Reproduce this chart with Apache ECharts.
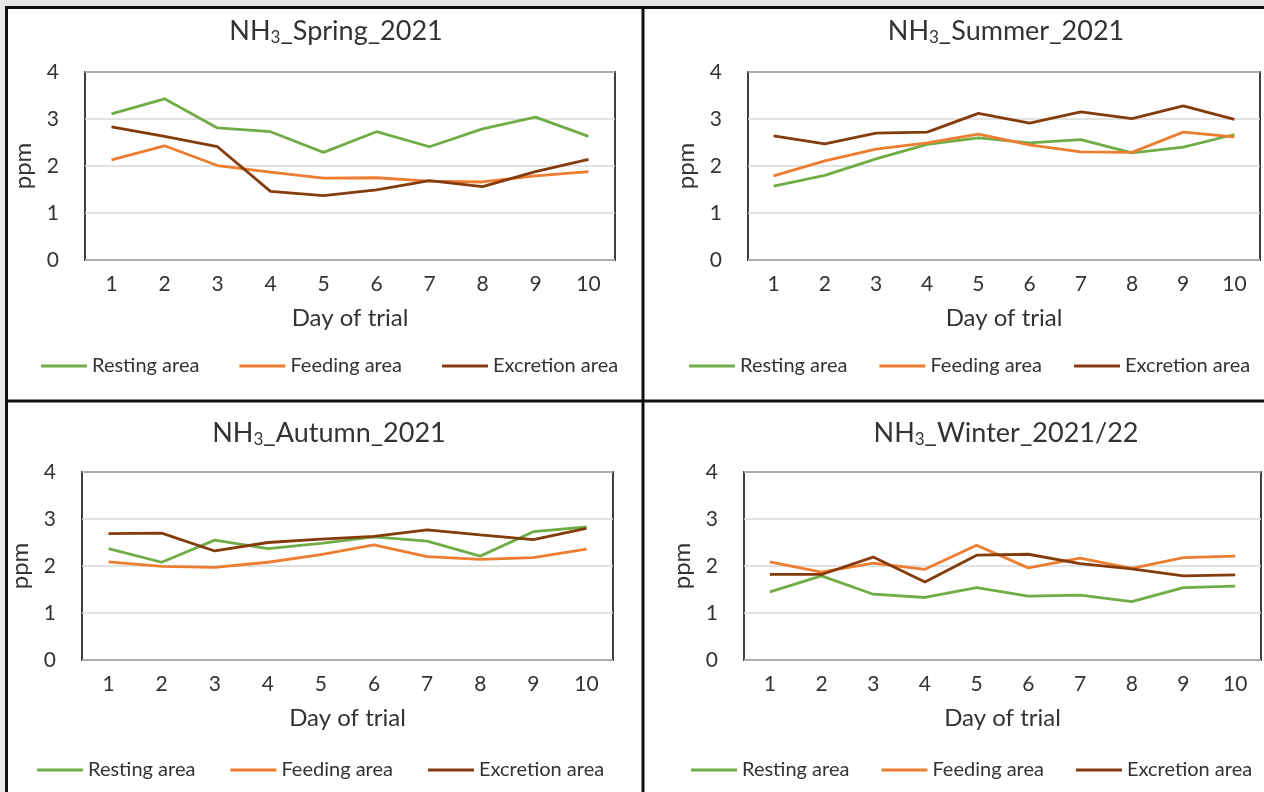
<!DOCTYPE html>
<html>
<head>
<meta charset="utf-8">
<script src="https://cdn.jsdelivr.net/npm/echarts@6/dist/echarts.min.js"></script>
<style>
  html, body { margin: 0; padding: 0; background: #fff; }
  #main { width: 1264px; height: 792px; }
</style>
</head>
<body>
<div id="main"></div>
<script>
var days = ['1', '2', '3', '4', '5', '6', '7', '8', '9', '10'];
var seriesNames = ['Resting area', 'Feeding area', 'Excretion area'];
var colors = ['#70ad47', '#ed7d31', '#843c0c'];

// spring 2021
var springResting = [3.11, 3.43, 2.81, 2.73, 2.29, 2.73, 2.41, 2.79, 3.04, 2.63];
var springFeeding = [2.13, 2.43, 2.01, 1.87, 1.74, 1.75, 1.68, 1.66, 1.79, 1.88];
var springExcretion = [2.83, 2.63, 2.41, 1.46, 1.37, 1.49, 1.69, 1.56, 1.88, 2.14];

// summer 2021
var summerResting = [1.57, 1.80, 2.15, 2.46, 2.60, 2.49, 2.56, 2.28, 2.40, 2.67];
var summerFeeding = [1.79, 2.11, 2.36, 2.49, 2.68, 2.45, 2.30, 2.29, 2.72, 2.62];
var summerExcretion = [2.64, 2.47, 2.70, 2.72, 3.12, 2.91, 3.15, 3.01, 3.28, 2.99];

// autumn 2021
var autumnResting = [2.37, 2.08, 2.55, 2.37, 2.48, 2.62, 2.53, 2.21, 2.73, 2.83];
var autumnFeeding = [2.09, 1.99, 1.97, 2.08, 2.24, 2.45, 2.20, 2.14, 2.18, 2.36];
var autumnExcretion = [2.69, 2.70, 2.32, 2.50, 2.57, 2.63, 2.77, 2.66, 2.56, 2.80];

// winter 2021/22
var winterResting = [1.45, 1.79, 1.40, 1.33, 1.54, 1.36, 1.38, 1.24, 1.54, 1.57];
var winterFeeding = [2.09, 1.87, 2.06, 1.93, 2.44, 1.96, 2.17, 1.95, 2.18, 2.21];
var winterExcretion = [1.82, 1.82, 2.19, 1.66, 2.23, 2.25, 2.05, 1.94, 1.79, 1.81];

var titles = ['Spring_2021', 'Summer_2021', 'Autumn_2021', 'Winter_2021/22'];
var panelData = [
    [springResting, springFeeding, springExcretion],
    [summerResting, summerFeeding, summerExcretion],
    [autumnResting, autumnFeeding, autumnExcretion],
    [winterResting, winterFeeding, winterExcretion]
];

var font = 'Lato, "Open Sans", sans-serif';
var textColor = '#333';

// panel layout
var grids = [
    {left: 85, top: 72, width: 530, height: 188},
    {left: 748, top: 72, width: 512, height: 188},
    {left: 82, top: 472, width: 531, height: 188},
    {left: 744, top: 472, width: 517, height: 188}
];
var titlePos = [[331, 12], [1001, 12], [324, 414], [1001, 414]];
var legendPos = [[36, 351], [684, 351], [32, 755], [686, 755]];
var legendGaps = [40, 32, 35, 32];

var myChart = echarts.init(document.getElementById('main'));

var option = {
    backgroundColor: '#fff',
    animation: false,
    title: [],
    legend: [],
    grid: [],
    xAxis: [],
    yAxis: [],
    series: [],
    graphic: [
        {type: 'rect', shape: {x: 0, y: 0, width: 1264, height: 6}, style: {fill: '#e9e9e9'}},
        {type: 'rect', shape: {x: 0, y: 0, width: 5, height: 792}, style: {fill: '#e9e9e9'}},
        {type: 'line', shape: {x1: 5, y1: 7.5, x2: 1264, y2: 7.5}, style: {stroke: '#111', lineWidth: 3}},
        {type: 'line', shape: {x1: 6.5, y1: 6, x2: 6.5, y2: 792}, style: {stroke: '#111', lineWidth: 3}},
        {type: 'line', shape: {x1: 643, y1: 6, x2: 643, y2: 792}, style: {stroke: '#111', lineWidth: 3}},
        {type: 'line', shape: {x1: 5, y1: 401, x2: 1264, y2: 401}, style: {stroke: '#111', lineWidth: 3}}
    ]
};

for (var i = 0; i < 4; i++) {
    option.title.push({
        text: 'NH{sub|3}_' + titles[i],
        left: titlePos[i][0],
        top: titlePos[i][1],
        textAlign: 'center',
        textStyle: {
            fontFamily: font, fontSize: 27, fontWeight: 'normal', color: textColor,
            rich: {sub: {fontFamily: font, fontSize: 17, color: textColor, verticalAlign: 'bottom', padding: [12, 0, 0, 0]}}
        }
    });
    option.legend.push({
        data: seriesNames,
        left: legendPos[i][0],
        top: legendPos[i][1],
        width: 640,
        icon: 'rect',
        itemWidth: 46,
        itemHeight: 3,
        itemGap: legendGaps[i],
        selectedMode: false,
        textStyle: {fontFamily: font, fontSize: 20, color: textColor}
    });
    option.grid.push({
        left: grids[i].left, top: grids[i].top, width: grids[i].width, height: grids[i].height,
        show: true, borderColor: '#2a2a2a', borderWidth: 1.8, backgroundColor: '#fff'
    });
    option.xAxis.push({
        type: 'category',
        gridIndex: i,
        data: days,
        name: 'Day of trial',
        nameLocation: 'middle',
        nameGap: 46,
        nameTextStyle: {fontFamily: font, fontSize: 24, color: textColor},
        axisLine: {show: false},
        axisTick: {show: false},
        axisLabel: {fontFamily: font, fontSize: 21, color: textColor, margin: 14}
    });
    option.yAxis.push({
        type: 'value',
        gridIndex: i,
        min: 0,
        max: 4,
        interval: 1,
        name: 'ppm',
        nameLocation: 'middle',
        nameRotate: 90,
        nameGap: 50,
        nameTextStyle: {fontFamily: font, fontSize: 24, color: textColor},
        axisLine: {show: false},
        axisTick: {show: false},
        axisLabel: {fontFamily: font, fontSize: 21, color: textColor, margin: 26},
        splitLine: {lineStyle: {color: '#d9d9d9', width: 1.5}}
    });
    for (var s = 0; s < 3; s++) {
        option.series.push({
            name: seriesNames[s],
            type: 'line',
            xAxisIndex: i,
            yAxisIndex: i,
            data: panelData[i][s],
            symbol: 'none',
            color: colors[s],
            lineStyle: {width: 2.8, color: colors[s]}
        });
    }
}

myChart.setOption(option);
</script>
</body>
</html>
